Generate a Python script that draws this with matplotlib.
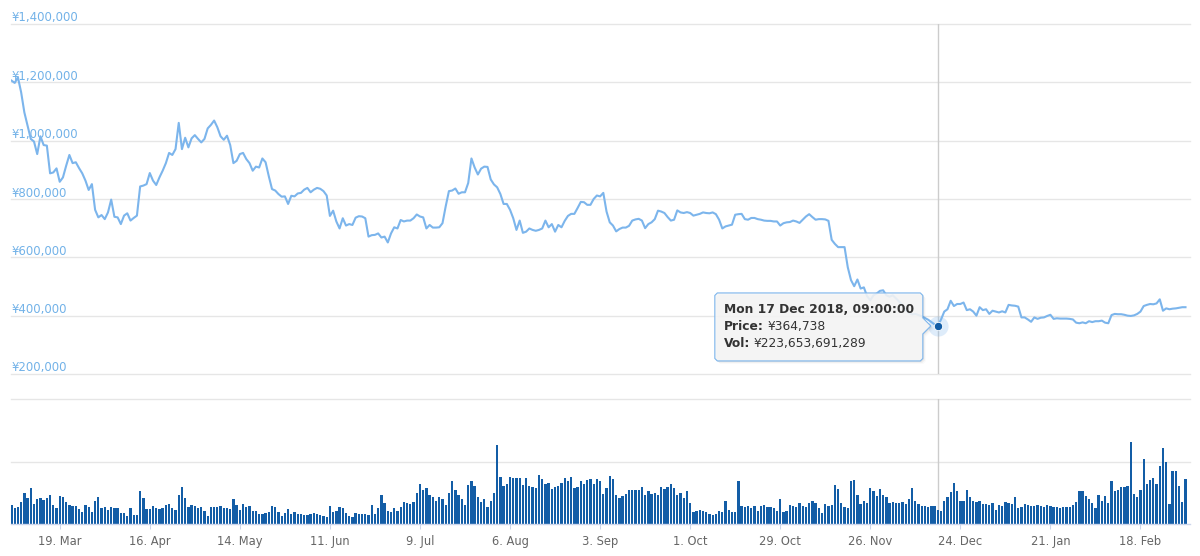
import numpy as np
import pandas as pd
import matplotlib
matplotlib.use('Agg')
import matplotlib.pyplot as plt
import matplotlib.dates as mdates
from matplotlib.patches import Polygon
from matplotlib.transforms import IdentityTransform

# daily close, thousands of yen, from 4 Mar 2018
price_k = [
    1206, 1198, 1217, 1166, 1097, 1051, 1006, 997, 954, 1015,
    985, 983, 888, 891, 905, 859, 874, 914, 951, 923,
    926, 906, 888, 863, 831, 851, 763, 737, 745, 731,
    754, 798, 739, 737, 714, 743, 751, 726, 735, 743,
    843, 846, 851, 889, 863, 848, 874, 897, 923, 958,
    951, 971, 1061, 971, 1010, 977, 1008, 1019, 1006, 994,
    1006, 1042, 1054, 1069, 1046, 1015, 1003, 1017, 985, 923,
    931, 954, 958, 937, 923, 897, 911, 908, 939, 926,
    878, 834, 829, 817, 808, 809, 783, 811, 809, 819,
    821, 832, 838, 823, 832, 838, 835, 827, 812, 742,
    760, 723, 699, 734, 709, 714, 711, 736, 741, 740,
    734, 671, 676, 677, 682, 668, 671, 651, 682, 703,
    699, 728, 723, 726, 726, 734, 747, 740, 737, 699,
    711, 702, 702, 703, 717, 775, 827, 829, 836, 818,
    823, 823, 855, 939, 908, 884, 904, 911, 910, 867,
    850, 840, 817, 783, 783, 763, 734, 694, 726, 684,
    688, 699, 694, 691, 694, 699, 726, 703, 714, 688,
    711, 703, 725, 742, 749, 749, 769, 790, 789, 780,
    780, 800, 812, 809,
    821, 757, 720, 709, 689, 697, 702, 702, 708, 726,
    730, 732, 726, 700, 714, 720, 731, 760, 757, 752,
    738, 726, 729, 761, 754, 752, 755, 752, 743, 746,
    749, 754, 752, 751, 754, 748, 729, 699, 706, 709,
    712, 746, 748, 749, 731, 729, 735, 735, 731, 729,
    726, 725, 725, 723, 723, 709, 717, 720, 721, 726,
    723, 718, 729, 740, 748, 738, 729, 731, 731, 730,
    725, 660, 646, 635, 635, 635, 566, 522, 501, 524,
    493, 497, 467, 453, 470, 476, 485, 487, 470, 465,
    470, 459,
    448, 436, 420, 410, 404, 406, 402, 398, 392, 386, 378, 370,
    364.738,
    387, 414, 422, 451, 433, 440, 440, 445, 419, 422,
    414, 400, 429, 419, 422, 406, 417, 414, 411, 415,
    411, 437, 435, 434, 431, 394, 394, 387, 379, 394,
    389, 393, 394, 399, 403, 389, 391, 390, 390,
    390, 389, 387, 376, 374, 377, 374, 381, 378, 381,
    381, 383, 376, 374, 402, 406, 405, 405, 403, 400,
    399, 401, 406, 414, 433, 437, 440, 439, 442, 456,
    417, 425, 422, 424, 425, 427, 429, 429,
]

# daily volume, billions of yen
volume_b = [
    301, 253, 274, 355, 495, 414, 570, 317, 398, 414,
    382, 414, 462, 301, 253, 446, 430, 355, 301, 285,
    285, 237, 194, 301, 269, 194, 376, 430, 253, 269,
    220, 269, 258, 258, 177, 177, 129, 253, 145, 145,
    521, 414, 237, 237, 285, 258, 247, 258, 301, 323,
    258, 220, 462, 591, 414, 269, 301, 285, 258, 269,
    210, 129, 269, 269, 269, 285, 253, 253, 237, 398,
    306, 231, 323, 269, 285, 215, 215, 161, 161, 177,
    194, 285, 269, 194, 129, 177, 237, 161, 194, 161,
    161, 145, 145, 161, 177, 161, 145, 129, 113, 285,
    194, 215, 269, 253, 177, 129, 108, 177, 161, 161,
    161, 145, 306, 161, 253, 462, 339, 215, 194, 253,
    215, 269, 355, 333,
    323, 355, 495, 645, 538, 575, 462, 430, 376, 430,
    398, 301, 495, 683, 538, 462, 398, 301, 624, 683,
    607, 430, 355, 398, 269, 376, 495, 1269, 753, 607,
    645,
    753, 731, 731, 731, 624, 731, 607, 591, 575, 785,
    720, 645, 661, 559, 591, 607, 650, 731, 683, 753,
    575, 591, 683, 645, 700, 715, 645, 715, 683, 484,
    575, 769, 720, 462, 414, 446, 484, 538, 538, 538,
    538, 591, 462, 521, 484, 495, 462, 591, 554, 600,
    645, 575, 462, 495, 414, 521, 339, 194, 210, 226,
    215, 194, 161, 145, 161, 215, 194, 376, 231, 194,
    194,
    683,
    285, 269, 285, 258, 285, 215, 285, 301, 269, 269,
    253, 215, 398, 194, 215, 301, 285, 269, 339, 285,
    269,
    339, 376, 339, 253, 177, 323, 285, 301, 624, 559,
    339, 269, 253,
    683, 699, 462, 323, 376, 339, 575, 521, 446, 559,
    462, 430, 339, 355, 339, 339, 355, 323, 398, 575,
    376, 323, 285, 285, 269, 285, 285,
    223.653691289,
    215, 376, 430, 505, 661, 521, 376, 376,
    538, 430, 376, 355, 376, 323, 323, 301, 339, 231,
    301, 285, 355, 339, 323, 430, 253, 269, 323, 301,
    285, 285, 301, 285, 269, 301, 285, 269, 269, 253,
    269, 269, 269, 301, 355, 521, 521, 446, 398, 339,
    253, 462, 376, 446, 339, 683, 521, 538, 591, 591,
    607, 1312, 484, 430, 538, 1043, 645, 699, 737, 645,
    935, 1220, 989, 323, 844, 844, 607, 360, 720,
]

price_ticks = [200000, 400000, 600000, 800000, 1000000, 1200000, 1400000]
vol_grid = [1e12, 2e12]
tick_days = pd.date_range('2018-03-19', periods=13, freq='28D')
hover_time = pd.Timestamp('2018-12-17 09:00:00')

dates = pd.date_range('2018-03-04', periods=len(price_k), freq='D')
price = np.array(price_k) * 1000
volume = np.array(volume_b) * 1e9

LINE = '#7cb5ec'
BAR = '#135da6'
GRID = '#e6e6e6'

W, H = 1200, 556
fig = plt.figure(figsize=(W / 100, H / 100), dpi=100)


def box(left, top, right, bottom):
    return [left / W, 1 - bottom / H, (right - left) / W, (bottom - top) / H]


ax_p = fig.add_axes(box(11, 24, 1190, 374))
ax_v = fig.add_axes(box(11, 399, 1190, 524), sharex=ax_p)

x0 = mdates.date2num(dates[0])
ax_p.set_xlim(x0 - 0.15, x0 + 366.4)
ax_p.set_ylim(price_ticks[0], price_ticks[-1])
ax_v.set_ylim(0, vol_grid[-1])

for a in (ax_p, ax_v):
    for s in a.spines.values():
        s.set_visible(False)
    a.tick_params(left=False, labelleft=False)

# price panel
for v in price_ticks:
    ax_p.axhline(v, color=GRID, lw=1, zorder=0, clip_on=False)
    ax_p.annotate(f'¥{v:,}', xy=(0, v), xycoords=('axes fraction', 'data'),
                  xytext=(1, 6), textcoords='offset pixels', ha='left', va='center',
                  color='#72b2e8', fontsize=8.5)
ax_p.plot(dates, price, color=LINE, lw=1.5, solid_joinstyle='round', zorder=3)
ax_p.tick_params(bottom=False, labelbottom=False)

# volume panel
for v in vol_grid:
    ax_v.axhline(v, color=GRID, lw=1, zorder=0, clip_on=False)
ax_v.bar(dates, volume, width=0.72, color=BAR, linewidth=0, zorder=2)
ax_v.spines['bottom'].set_visible(True)
ax_v.spines['bottom'].set_color('#ccd6eb')
ax_v.spines['bottom'].set_linewidth(1)
ax_v.set_xticks(tick_days)
ax_v.set_xticklabels([f'{d.day}. {d.strftime("%b")}' for d in tick_days])
ax_v.tick_params(axis='x', length=3.6, width=0.75, color='#ccd6eb',
                 labelcolor='#666666', labelsize=8.3, pad=4)

# hover crosshair + marker
hover_day = hover_time.normalize()
hi = dates.get_loc(hover_day)
for a in (ax_p, ax_v):
    a.axvline(hover_day, color='#cccccc', lw=1, zorder=1)
ax_p.scatter([hover_day], [price[hi]], s=210, color=LINE, alpha=0.25, lw=0, zorder=4)
ax_p.scatter([hover_day], [price[hi]], s=36, color=BAR, edgecolor='white', lw=0.6, zorder=5)

# tooltip
fig.canvas.draw()
mx, my = ax_p.transData.transform((mdates.date2num(hover_day), price[hi]))
l, r, t, b = mx - 223, mx - 15, my + 33, my - 35
c = 2.5
shape = [(l + c, b), (r - c, b), (r, b + c), (r, my - 8), (mx - 7, my), (r, my + 8),
         (r, t - c), (r - c, t), (l + c, t), (l, t - c), (l, b + c)]
ident = IdentityTransform()
for off, al in ((1, 0.06), (2, 0.04), (3, 0.02)):
    fig.add_artist(Polygon([(px + off, py - off) for px, py in shape], closed=True,
                           transform=ident, facecolor='black', alpha=al, lw=0))
fig.add_artist(Polygon(shape, closed=True, transform=ident,
                       facecolor=(0.969, 0.969, 0.969, 0.88), edgecolor=LINE, lw=0.8))

tx = l + 9
lines = [
    (hover_time.strftime('%a %d %b %Y, %H:%M:%S'), None),
    ('Price:', f'¥{round(price[hi]):,}'),
    ('Vol:', f'¥{round(volume[hi]):,}'),
]
for k, (label, value) in enumerate(lines):
    ty = my + 16 - k * 17
    tt = fig.text(tx, ty, label, transform=ident, fontsize=8.8, fontweight='bold',
                  color='#333333', va='center')
    if value:
        fig.canvas.draw()
        bb = tt.get_window_extent()
        fig.text(bb.x1 + 3.5, ty, value, transform=ident, fontsize=8.8,
                 color='#333333', va='center')

fig.savefig('out.png', dpi=100)
